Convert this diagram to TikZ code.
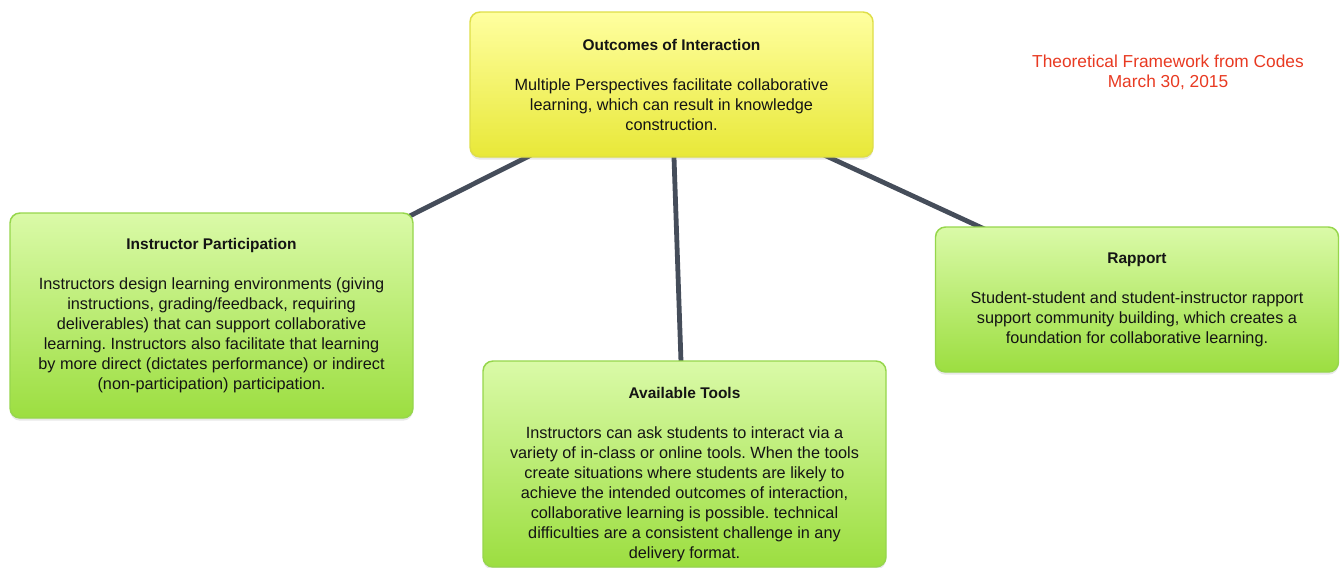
\documentclass[tikz,border=0pt]{standalone}
\usepackage{fontspec}
\setmainfont{Liberation Sans}
\usepackage{xcolor}
\usetikzlibrary{backgrounds,shadows}
\frenchspacing
\definecolor{outcometopc}{HTML}{FFFFA0}
\definecolor{outcomebotc}{HTML}{E8E838}
\definecolor{outcomedrawc}{HTML}{DEDE48}
\definecolor{leaftopc}{HTML}{DAFAA8}
\definecolor{leafbotc}{HTML}{9CDE40}
\definecolor{leafdrawc}{HTML}{96D64C}
\definecolor{linkc}{HTML}{454D5A}
\definecolor{notec}{HTML}{E83A22}
\newcommand{\maptitle}[1]{{\fontsize{11.6}{15}\selectfont\bfseries #1}}
\tikzset{
  mapnode/.style={rectangle, rounded corners=7.5pt, line width=1.1pt,
    minimum width=302.25pt, align=center, text=black!92,
    font=\fontsize{12.2}{15}\selectfont,
    drop shadow={shadow xshift=0pt, shadow yshift=-2pt, opacity=0.18}},
  outcomenode/.style={mapnode, draw=outcomedrawc, top color=outcometopc, bottom color=outcomebotc},
  leafnode/.style={mapnode, draw=leafdrawc, top color=leaftopc, bottom color=leafbotc},
  linkedge/.style={draw=linkc, line width=3.6pt},
  notenode/.style={text=notec, align=center, font=\fontsize{13}{15}\selectfont},
}
\begin{document}
\begin{tikzpicture}[x=0.75pt, y=-0.75pt]
  \useasboundingbox (0,0) rectangle (1340,568);
  \node[outcomenode, minimum height=108.75pt] (outcome) at (671.5,84.5)
    {\maptitle{Outcomes of Interaction}\\[15pt]
     Multiple Perspectives facilitate collaborative\\
     learning, which can result in knowledge\\
     construction.};
  \node[leafnode, minimum height=153.75pt] (instructor) at (211.5,315.5)
    {\maptitle{Instructor Participation}\\[15pt]
     Instructors design learning environments (giving\\
     instructions, grading/feedback, requiring\\
     deliverables) that can support collaborative\\
     learning. Instructors also facilitate that learning\\
     by more direct (dictates performance) or indirect\\
     (non-participation) participation.};
  \node[leafnode, minimum height=108.75pt] (rapport) at (1137,299.5)
    {\maptitle{Rapport}\\[15pt]
     Student-student and student-instructor rapport\\
     support community building, which creates a\\
     foundation for collaborative learning.};
  \node[leafnode, minimum height=154.5pt] (tools) at (684.5,464)
    {\rule{0pt}{23.8pt}\maptitle{Available Tools}\\[15pt]
     Instructors can ask students to interact via a\\
     variety of in-class or online tools. When the tools\\
     create situations where students are likely to\\
     achieve the intended outcomes of interaction,\\
     collaborative learning is possible. technical\\
     difficulties are a consistent challenge in any\\
     delivery format.};
  \node[notenode] (note) at (1168,72) {Theoretical Framework from Codes\\ March 30, 2015};
  \begin{scope}[on background layer]
    \draw[linkedge] (outcome.center) -- (instructor.center);
    \draw[linkedge] (outcome.center) -- (tools.center);
    \draw[linkedge] (outcome.center) -- (rapport.center);
  \end{scope}
\end{tikzpicture}
\end{document}
